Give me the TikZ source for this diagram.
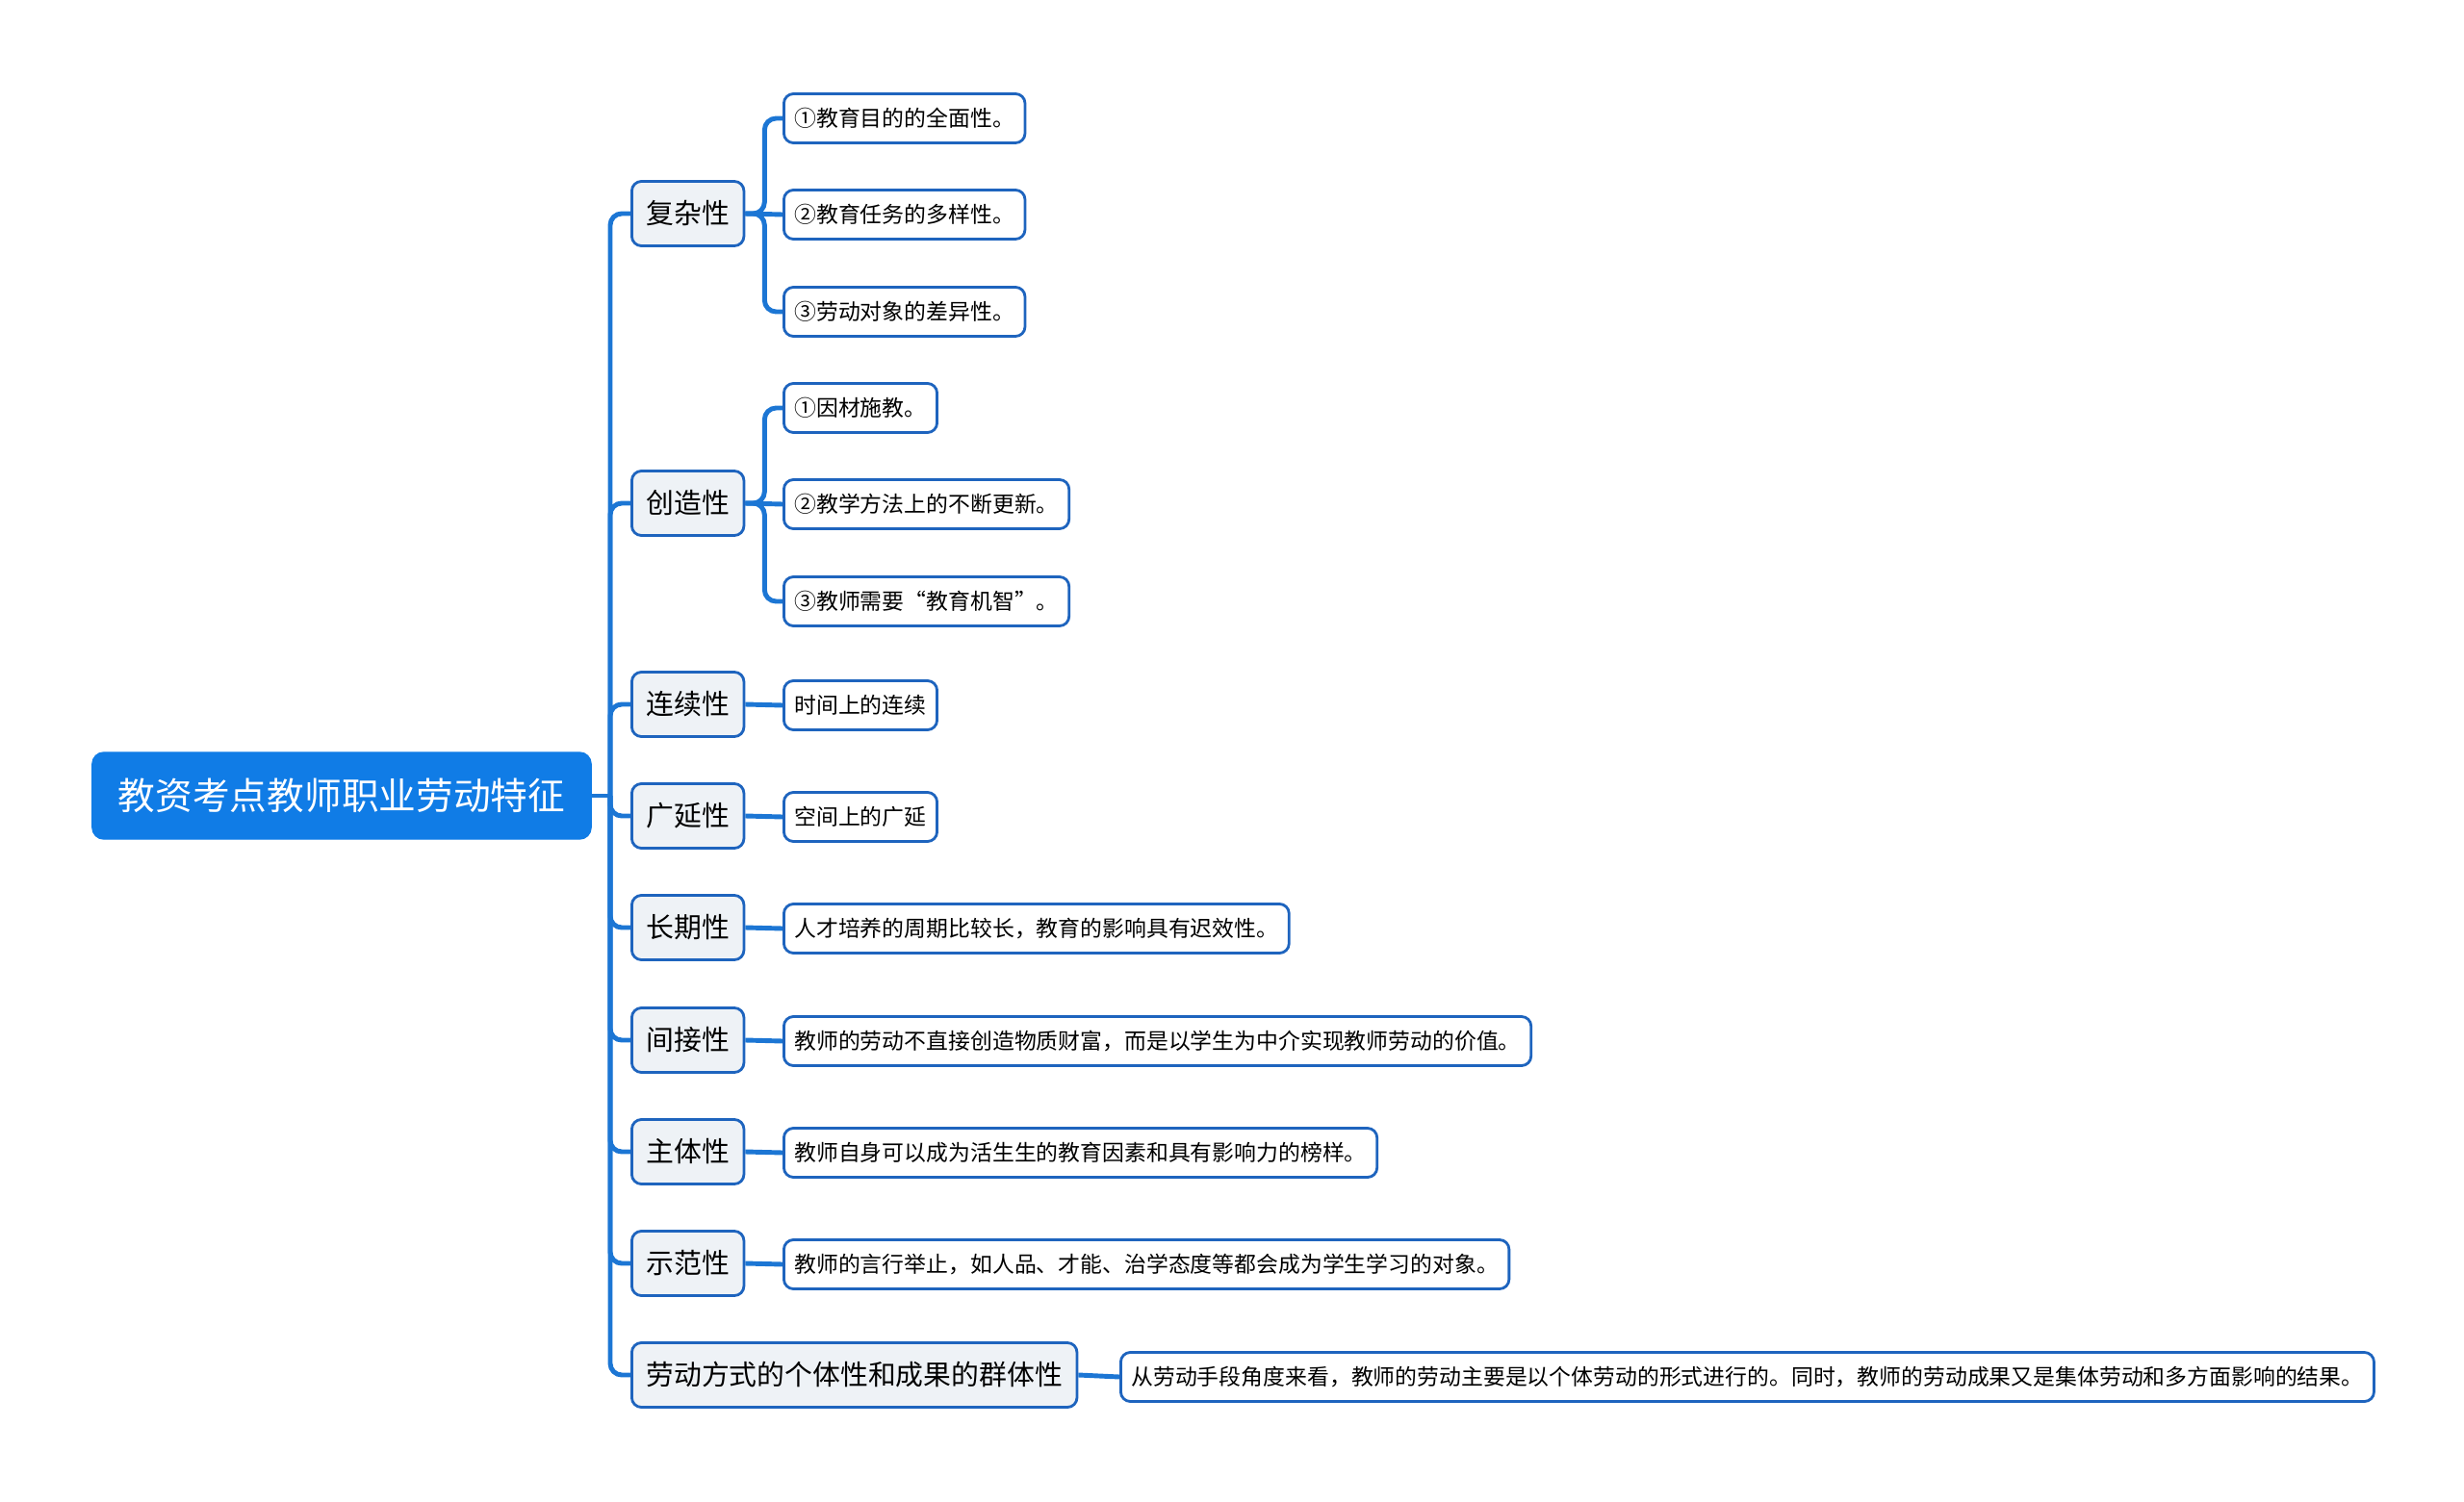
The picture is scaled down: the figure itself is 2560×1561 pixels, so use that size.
\documentclass[tikz,border=0pt]{standalone}
\usepackage{fontspec}
\setmainfont{Noto Sans CJK SC}
\usepackage{xcolor}
\usetikzlibrary{positioning}
\definecolor{rootblue}{RGB}{16,124,230}
\definecolor{edgeblue}{RGB}{28,118,212}
\definecolor{framblue}{RGB}{30,100,190}
\definecolor{topicgray}{RGB}{238,242,246}

\begin{document}
\begin{tikzpicture}[x=0.01cm, y=-0.01cm]
\tikzstyle{rootbox}=[draw=rootblue, fill=rootblue, text=white, rounded corners=0.12cm, inner xsep=0.27cm, minimum height=0.9cm, font=\fontsize{11}{13}\selectfont]
\tikzstyle{topic}=[draw=framblue, line width=0.8pt, fill=topicgray, rounded corners=0.1cm, inner xsep=0.15cm, minimum height=0.67cm, anchor=west, font=\fontsize{8.2}{10}\selectfont]
\tikzstyle{leaf}=[draw=framblue, line width=0.8pt, fill=white, rounded corners=0.1cm, inner xsep=0.11cm, minimum height=0.51cm, anchor=west, font=\fontsize{6.5}{8}\selectfont]
\tikzstyle{link}=[draw=edgeblue, line width=1.4pt, rounded corners=0.12cm]
\useasboundingbox (0,0) rectangle (2560,1561);
% root
\node[rootbox] (main) at (355,827) {教资考点教师职业劳动特征};
\coordinate (trunk) at (634,827);
% first level
\node[topic] (fuza) at (655,222) {复杂性};
\node[topic] (chuang) at (655,523) {创造性};
\node[topic] (lianxu) at (655,732) {连续性};
\node[topic] (guangyan) at (655,848) {广延性};
\node[topic] (changqi) at (655,964) {长期性};
\node[topic] (jianjie) at (655,1081) {间接性};
\node[topic] (zhuti) at (655,1197) {主体性};
\node[topic] (shifan) at (655,1313) {示范性};
\node[topic] (qunti) at (655,1429) {劳动方式的个体性和成果的群体性};
% second level
\node[leaf] (fuza1) at (813,123) {①教育目的的全面性。};
\node[leaf] (fuza2) at (813,223) {②教育任务的多样性。};
\node[leaf] (fuza3) at (813,324) {③劳动对象的差异性。};
\node[leaf] (chuang1) at (813,424) {①因材施教。};
\node[leaf] (chuang2) at (813,524) {②教学方法上的不断更新。};
\node[leaf] (chuang3) at (813,625) {③教师需要“教育机智”。};
\node[leaf] (lianxu1) at (813,733) {时间上的连续};
\node[leaf] (guangyan1) at (813,849) {空间上的广延};
\node[leaf] (changqi1) at (813,965) {人才培养的周期比较长，教育的影响具有迟效性。};
\node[leaf] (jianjie1) at (813,1082) {教师的劳动不直接创造物质财富，而是以学生为中介实现教师劳动的价值。};
\node[leaf] (zhuti1) at (813,1198) {教师自身可以成为活生生的教育因素和具有影响力的榜样。};
\node[leaf] (shifan1) at (813,1314) {教师的言行举止，如人品、才能、治学态度等都会成为学生学习的对象。};
\node[leaf] (qunti1) at (1163,1431) {从劳动手段角度来看，教师的劳动主要是以个体劳动的形式进行的。同时，教师的劳动成果又是集体劳动和多方面影响的结果。};
% trunk
\draw[link] (main.east) -- (trunk);
\draw[link] (trunk) |- (fuza.west);
\draw[link] (trunk) |- (chuang.west);
\draw[link] (trunk) |- (lianxu.west);
\draw[link] (trunk) |- (guangyan.west);
\draw[link] (trunk) |- (changqi.west);
\draw[link] (trunk) |- (jianjie.west);
\draw[link] (trunk) |- (zhuti.west);
\draw[link] (trunk) |- (shifan.west);
\draw[link] (trunk) |- (qunti.west);
% branches
\draw[link] (fuza.east) -- ++(20,0) |- (fuza1.west);
\draw[link] (fuza.east) -- (fuza2.west);
\draw[link] (fuza.east) -- ++(20,0) |- (fuza3.west);
\draw[link] (chuang.east) -- ++(20,0) |- (chuang1.west);
\draw[link] (chuang.east) -- (chuang2.west);
\draw[link] (chuang.east) -- ++(20,0) |- (chuang3.west);
\draw[link] (lianxu.east) -- (lianxu1.west);
\draw[link] (guangyan.east) -- (guangyan1.west);
\draw[link] (changqi.east) -- (changqi1.west);
\draw[link] (jianjie.east) -- (jianjie1.west);
\draw[link] (zhuti.east) -- (zhuti1.west);
\draw[link] (shifan.east) -- (shifan1.west);
\draw[link] (qunti.east) -- (qunti1.west);
\end{tikzpicture}
\end{document}
